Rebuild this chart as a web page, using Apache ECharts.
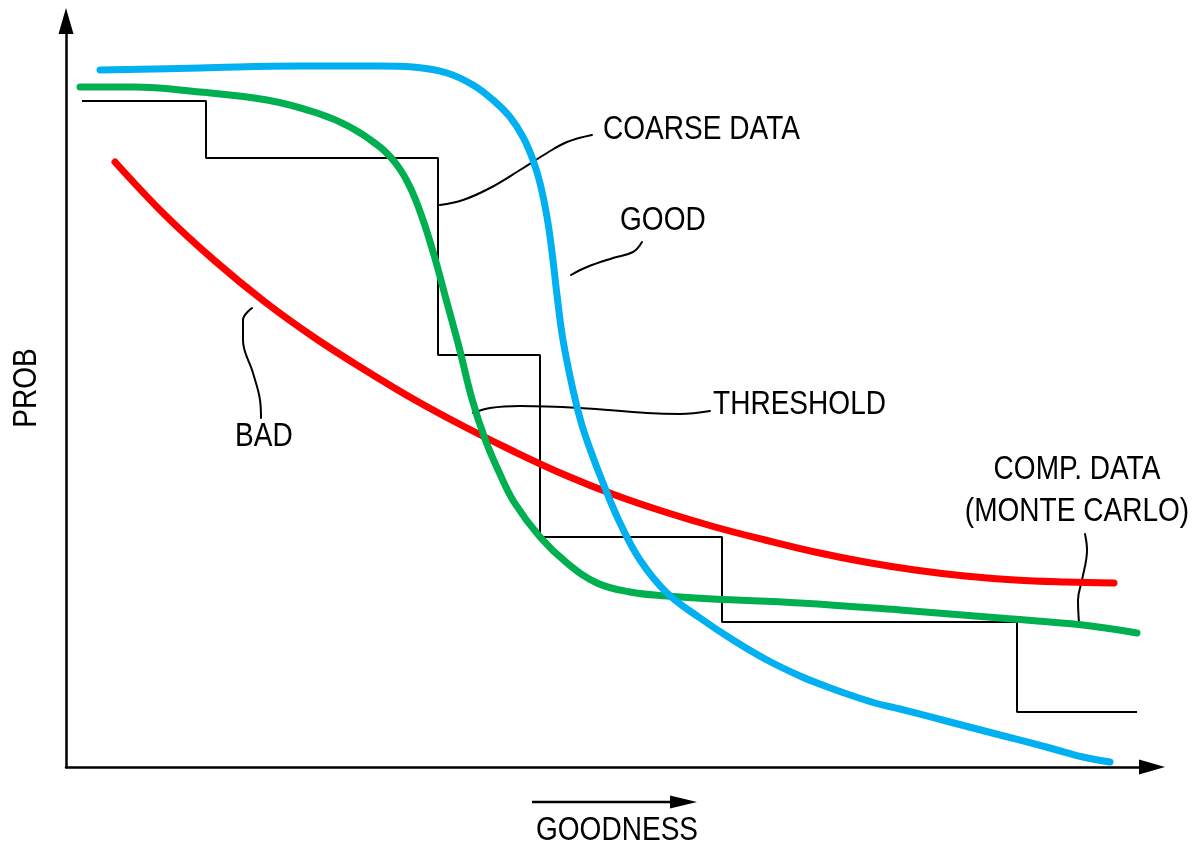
<!DOCTYPE html>
<html>
<head>
<meta charset="utf-8">
<script src="https://cdn.jsdelivr.net/npm/echarts@6/dist/echarts.min.js"></script>
<style>
html,body{margin:0;padding:0;background:#fff;}
#c{width:1197px;height:848px;}
</style>
</head>
<body>
<div id="c"></div>
<script>
// Schematic chart: x = goodness, y = probability (arbitrary units)
const goodCurve = [[34,697],[134,699],[234,701],[314,701],[347,700],[381,694],[407,682],[427,667],[444,650],[457,630],[467,607],[474,584],[481,550],[486,515],[491,472],[497,427],[507,377],[515,345],[524,318],[537,284],[554,244],[574,207],[601,174],[634,149],[667,127],[701,107],[734,91],[759,81],[784,72],[809,64],[834,58],[884,45],[934,32],[984,19],[1017,10],[1044,5]];
const thresholdCurve = [[14,680],[67,680],[134,675],[201,667],[251,654],[284,640],[314,620],[331,602],[344,580],[356,550],[368,512],[380,468],[393,420],[406,368],[419,328],[433,295],[448,265],[474,230],[501,204],[531,184],[564,175],[601,171],[647,168],[734,164],[834,157],[934,149],[1017,142],[1071,134]];
const badCurve = [[49,605],[99,552],[149,506],[199,465],[249,429],[299,397],[349,367],[399,340],[449,315],[499,292],[549,272],[599,255],[649,240],[699,227],[749,215],[799,205],[849,197],[899,191],[949,187],[999,185],[1048,184]];
const coarseSteps = [[16,666],[140,609],[372,412],[474,230],[656,145],[951,55],[1071,55]];

const leaderCoarse = [[374,562],[397,567],[424,579],[454,597],[481,614],[501,625],[526,632]];
const leaderGood = [[505,492],[521,500],[547,509],[567,515],[576,525]];
const leaderThreshold = [[407,354],[424,359],[454,361],[514,359],[581,354],[614,353],[644,356]];
const leaderBad = [[186,459],[177,447],[177,427],[187,394],[194,367],[195,349]];
const leaderComp = [[1019,233],[1021,217],[1016,187],[1012,167],[1013,144]];

// [x, y, text, align]
const curveLabels = [[537,637,'COARSE DATA','left'],[554,546,'GOOD','left'],[647,362,'THRESHOLD','left'],[169,330,'BAD','left'],[1011,276,'COMP. DATA\n(MONTE CARLO)','center']];

const xAxisTitle = [551, -64, 'GOODNESS'];
const yAxisTitle = [-39, 379, 'PROB'];

const FONT_FAMILY = "'Liberation Sans Narrow', 'Arial Narrow', 'Liberation Sans', Arial, sans-serif";
const FONT = "33px " + FONT_FAMILY;
const NARROW = 0.85;

const chart = echarts.init(document.getElementById('c'));

function curve(data, color, width) {
  return {
    type: 'line', data: data, smooth: 0.4,
    showSymbol: false, symbol: 'none', silent: true,
    lineStyle: {color: color, width: width, cap: 'round', join: 'round'}
  };
}

const axisCommon = {
  type: 'value',
  axisTick: {show: false},
  axisLabel: {show: false},
  splitLine: {show: false},
  axisLine: {show: true, symbol: ['none', 'triangle'], symbolSize: [15, 26],
    lineStyle: {color: '#000', width: 2.5}}
};

chart.setOption({
  animation: false,
  backgroundColor: '#fff',
  grid: {left: 66, right: 45, top: 21, bottom: 81},
  xAxis: Object.assign({}, axisCommon, {min: 0, max: 1086}),
  yAxis: Object.assign({}, axisCommon, {min: 0, max: 746}),
  series: [
    {
      type: 'line', data: coarseSteps, step: 'end', showSymbol: false, symbol: 'none', silent: true,
      lineStyle: {color: '#000', width: 2}
    },
    curve(leaderCoarse, '#000', 2),
    curve(leaderGood, '#000', 2),
    curve(leaderThreshold, '#000', 2),
    curve(leaderBad, '#000', 2),
    curve(leaderComp, '#000', 2),
    curve(badCurve, '#FF0000', 7),
    curve(thresholdCurve, '#00B050', 7),
    curve(goodCurve, '#00B0F0', 7)
  ]
});

// Text placed through the chart's own coordinate conversion, condensed horizontally
const graphics = [];
function addText(x, y, text, align, rotation) {
  const p = chart.convertToPixel({gridIndex: 0}, [x, y]);
  graphics.push({
    type: 'text', x: p[0], y: p[1], scaleX: NARROW, rotation: rotation || 0, silent: true,
    style: {text: text, font: FONT, fill: '#000', align: align, verticalAlign: 'middle', lineHeight: 42}
  });
}
curveLabels.forEach(l => addText(l[0], l[1], l[2], l[3]));
addText(xAxisTitle[0], xAxisTitle[1], xAxisTitle[2], 'center');
addText(yAxisTitle[0], yAxisTitle[1], yAxisTitle[2], 'center', Math.PI / 2);

// Direction arrow above the x-axis title
graphics.push(
  {type: 'line', silent: true, shape: {x1: 532, y1: 802, x2: 678, y2: 802},
    style: {stroke: '#000', lineWidth: 2.5}},
  {type: 'polygon', silent: true, shape: {points: [[670, 795.5], [697, 802], [670, 808.5]]},
    style: {fill: '#000'}}
);
chart.setOption({graphic: graphics});
</script>
</body>
</html>
